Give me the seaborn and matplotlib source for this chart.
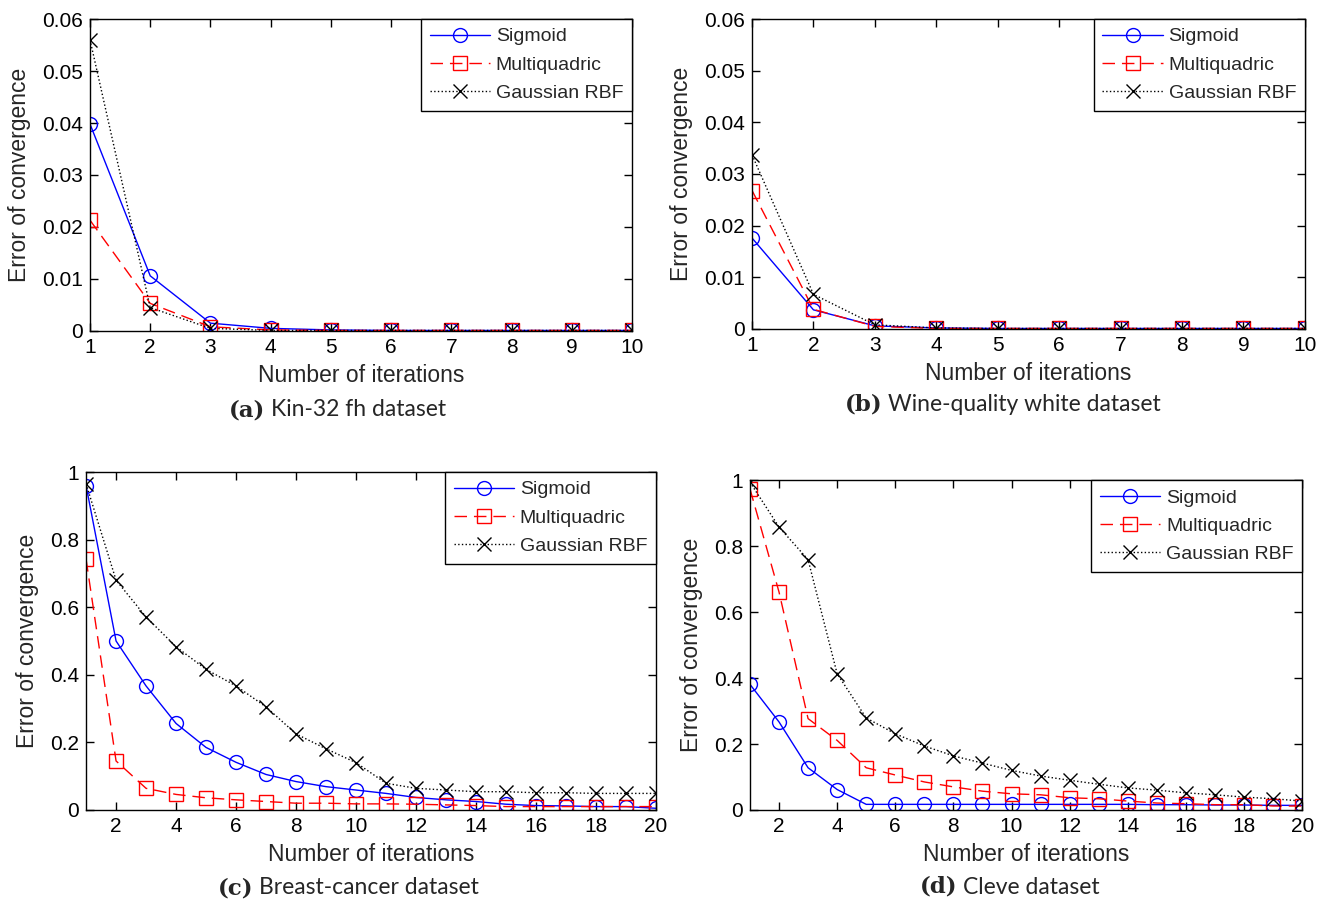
import numpy as np
import pandas as pd
import matplotlib
matplotlib.use("Agg")
import matplotlib.pyplot as plt
import seaborn as sns

# Data
iters_10 = list(range(1, 11))
iters_20 = list(range(1, 21))

kin_sigmoid = [0.0398, 0.0106, 0.0015, 0.0005, 0.0002, 0.0001, 0.0001, 0.0001, 0.0001, 0.0001]
kin_multi = [0.0213, 0.0053, 0.0008, 0.0002, 0.0001, 0.0001, 0.0001, 0.0001, 0.0001, 0.0001]
kin_gauss = [0.0560, 0.0045, 0.0005, 0.0001, 0.0001, 0.0001, 0.0001, 0.0001, 0.0001, 0.0001]

wine_sigmoid = [0.0176, 0.0037, 0.0006, 0.0002, 0.0001, 0.0001, 0.0001, 0.0001, 0.0001, 0.0001]
wine_multi = [0.0268, 0.0038, 0.0005, 0.0001, 0.0001, 0.0001, 0.0001, 0.0001, 0.0001, 0.0001]
wine_gauss = [0.0337, 0.0067, 0.0008, 0.0002, 0.0001, 0.0001, 0.0001, 0.0001, 0.0001, 0.0001]

breast_sigmoid = [0.960, 0.500, 0.367, 0.256, 0.185, 0.141, 0.105, 0.084, 0.069, 0.059,
                  0.049, 0.037, 0.030, 0.025, 0.017, 0.013, 0.012, 0.010, 0.010, 0.005]
breast_multi = [0.742, 0.145, 0.064, 0.046, 0.036, 0.030, 0.025, 0.020, 0.020, 0.018,
                0.018, 0.017, 0.015, 0.013, 0.010, 0.010, 0.010, 0.010, 0.010, 0.010]
breast_gauss = [0.965, 0.680, 0.571, 0.483, 0.416, 0.367, 0.305, 0.225, 0.181, 0.140,
                0.079, 0.064, 0.059, 0.054, 0.054, 0.051, 0.051, 0.049, 0.049, 0.049]

cleve_sigmoid = [0.381, 0.267, 0.128, 0.062, 0.017, 0.017, 0.017, 0.017, 0.017, 0.017,
                 0.017, 0.017, 0.017, 0.017, 0.016, 0.016, 0.015, 0.015, 0.014, 0.014]
cleve_multi = [0.974, 0.661, 0.277, 0.211, 0.128, 0.106, 0.085, 0.070, 0.057, 0.049,
               0.046, 0.037, 0.034, 0.027, 0.021, 0.019, 0.016, 0.016, 0.012, 0.012]
cleve_gauss = [0.994, 0.858, 0.759, 0.413, 0.279, 0.231, 0.194, 0.164, 0.142, 0.120,
               0.103, 0.090, 0.078, 0.067, 0.060, 0.052, 0.046, 0.039, 0.034, 0.027]

small_ticks = [0, 0.01, 0.02, 0.03, 0.04, 0.05, 0.06]
small_labels = ["0", "0.01", "0.02", "0.03", "0.04", "0.05", "0.06"]
big_ticks = [0, 0.2, 0.4, 0.6, 0.8, 1.0]
big_labels = ["0", "0.2", "0.4", "0.6", "0.8", "1"]

sns.set_style("ticks", {"xtick.direction": "in", "ytick.direction": "in"})
plt.rcParams["font.family"] = ["Liberation Sans", "DejaVu Sans"]

fig = plt.figure(figsize=(13.18, 9.06), dpi=100)

panels = [
    # rect, x, series, yticks, ylabels, xticks, caption letter, caption text, split x, caption y
    ([0.0683, 0.6347, 0.4112, 0.3443], iters_10, (kin_sigmoid, kin_multi, kin_gauss),
     small_ticks, small_labels, iters_10, "(a)", "Kin-32 fh dataset", 268, 410),
    ([0.5706, 0.6369, 0.4194, 0.3421], iters_10, (wine_sigmoid, wine_multi, wine_gauss),
     small_ticks, small_labels, iters_10, "(b)", "Wine-quality white dataset", 885, 404),
    ([0.0653, 0.1060, 0.4324, 0.3730], iters_20, (breast_sigmoid, breast_multi, breast_gauss),
     big_ticks, big_labels, list(range(2, 21, 2)), "(c)", "Breast-cancer dataset", 256, 888),
    ([0.5690, 0.1060, 0.4190, 0.3640], iters_20, (cleve_sigmoid, cleve_multi, cleve_gauss),
     big_ticks, big_labels, list(range(2, 21, 2)), "(d)", "Cleve dataset", 960, 887),
]

names = ["Sigmoid", "Multiquadric", "Gaussian RBF"]
styles = [("blue", "-", "o"), ("red", (0, (9, 5)), "s"), ("black", ":", "x")]

for rect, x, series, yt, yl, xt, letter, text, sx, cy in panels:
    ax = fig.add_axes(rect)
    for name, y, (c, ls, m) in zip(names, series, styles):
        sns.lineplot(x=x, y=y, ax=ax, color=c, linestyle=ls, marker=m,
                     markersize=10, markerfacecolor="none", markeredgecolor=c,
                     markeredgewidth=1.0, linewidth=1.0, label=name)
    ax.set_xlim(x[0], x[-1])
    ax.set_ylim(yt[0], yt[-1])
    ax.set_yticks(yt)
    ax.set_yticklabels(yl)
    ax.set_xticks(xt)
    ax.set_xticklabels([str(v) for v in xt])
    ax.tick_params(axis="both", which="both", direction="in", top=True, right=True,
                   labelsize=15, length=6, width=1, colors="black", pad=5)
    for sp in ax.spines.values():
        sp.set_visible(True)
        sp.set_color("black")
        sp.set_linewidth(1.0)
    ax.set_xlabel("Number of iterations", fontsize=16.5, labelpad=5)
    ax.set_ylabel("Error of convergence", fontsize=16.5, labelpad=8)
    leg = ax.legend(loc="upper right", borderaxespad=0, fancybox=False, framealpha=1,
                    edgecolor="black", fontsize=14, handlelength=3.1, labelspacing=0.55,
                    borderpad=0.45, handletextpad=0.3)
    leg.get_frame().set_linewidth(1.0)

    fig.text(sx / 1318 - 0.002, 1 - cy / 906, letter, family="DejaVu Serif",
             weight="bold", fontsize=16.5, ha="right", va="center")
    fig.text(sx / 1318 + 0.002, 1 - cy / 906, text, family=["Lato", "DejaVu Sans"],
             fontsize=16.5, ha="left", va="center")

fig.savefig("out.png", dpi=100)
